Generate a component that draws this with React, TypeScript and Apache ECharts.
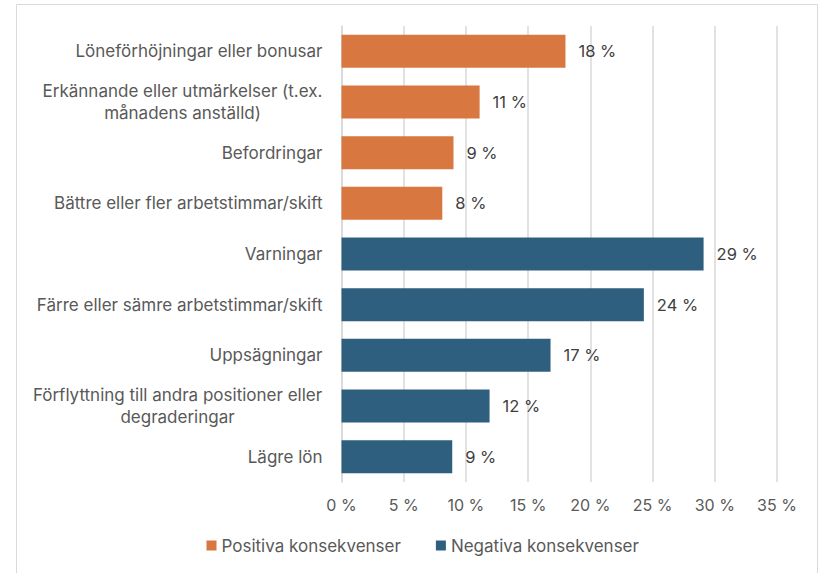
import React, { useEffect, useRef } from "react";
import * as echarts from "echarts";

const categories = [
  "Löneförhöjningar eller bonusar",
  "Erkännande eller utmärkelser (t.ex.\nmånadens anställd)",
  "Befordringar",
  "Bättre eller fler arbetstimmar/skift",
  "Varningar",
  "Färre eller sämre arbetstimmar/skift",
  "Uppsägningar",
  "Förflyttning till andra positioner eller\ndegraderingar",
  "Lägre lön",
];
const positiveValues = [18.0, 11.1, 9.0, 8.1, null, null, null, null, null];
const negativeValues = [null, null, null, null, 29.1, 24.3, 16.8, 11.9, 8.9];
const seriesNames = ["Positiva konsekvenser", "Negativa konsekvenser"];
const axisMin = 0;
const axisMax = 35;
const axisStep = 5;

const FONT = "Inter, 'Noto Sans', sans-serif";
const LABEL_SIZE = 17;
const TEXT_COLOR = "#595959";

function measure(text: string, size: number): number {
  const c = document.createElement("canvas");
  const ctx = c.getContext("2d");
  if (!ctx) return text.length * size * 0.55;
  ctx.font = `${size}px Inter`;
  return ctx.measureText(text).width;
}

export default function App() {
  const ref = useRef<HTMLDivElement>(null);
  useEffect(() => {
    if (!ref.current) return;
    const chart = echarts.init(ref.current, null, { renderer: "svg" });

    const rich: Record<string, any> = {};
    categories.forEach((cat, i) => {
      const lines = cat.split("\n");
      if (lines.length > 1) {
        const w = Math.ceil(Math.max(...lines.map((l) => measure(l, LABEL_SIZE))));
        rich["c" + i] = {
          width: w,
          align: "center",
          fontSize: LABEL_SIZE,
          fontFamily: FONT,
          color: TEXT_COLOR,
          lineHeight: 21.5,
        };
      }
    });

    const labelStyle = {
      show: true,
      position: "right" as const,
      distance: 13,
      fontSize: 16.5,
      fontFamily: FONT,
      color: "#404040",
      formatter: (p: any) => `${Math.round(p.value)} %`,
    };

    chart.setOption({
      animation: false,
      backgroundColor: "#ffffff",
      textStyle: { fontFamily: FONT },
      graphic: [
        {
          type: "rect",
          shape: { x: 16.5, y: 4.5, width: 801, height: 620 },
          style: { fill: "none", stroke: "#d9d9d9", lineWidth: 1 },
          silent: true,
        },
      ],
      grid: { left: 341.5, right: 42, top: 26, bottom: 91 },
      legend: {
        data: seriesNames,
        left: 206.5,
        top: 537,
        padding: 0,
        icon: "rect",
        itemWidth: 10,
        itemHeight: 10,
        itemGap: 35,
        textStyle: { fontSize: 17, color: TEXT_COLOR, fontFamily: FONT },
      },
      xAxis: {
        type: "value",
        min: axisMin,
        max: axisMax,
        interval: axisStep,
        axisLine: { show: false },
        axisTick: { show: false },
        splitLine: { show: true, lineStyle: { color: "#d9d9d9", width: 1.5 } },
        axisLabel: {
          formatter: "{value} %",
          fontSize: 16,
          color: TEXT_COLOR,
          fontFamily: FONT,
          margin: 15,
        },
      },
      yAxis: {
        type: "category",
        data: categories,
        inverse: true,
        axisTick: { show: false },
        axisLine: { show: true, lineStyle: { color: "#d9d9d9", width: 1.5 } },
        axisLabel: {
          margin: 19,
          fontSize: LABEL_SIZE,
          color: TEXT_COLOR,
          fontFamily: FONT,
          lineHeight: 21.5,
          formatter: (val: string, idx: number) => {
            const lines = val.split("\n");
            if (lines.length > 1 && rich["c" + idx]) {
              return lines.map((l) => `{c${idx}|${l}}`).join("\n");
            }
            return val;
          },
          rich,
        },
      },
      series: [
        {
          name: seriesNames[0],
          type: "bar",
          stack: "all",
          data: positiveValues,
          barWidth: 33,
          itemStyle: { color: "#D8773F" },
          label: labelStyle,
        },
        {
          name: seriesNames[1],
          type: "bar",
          stack: "all",
          data: negativeValues,
          barWidth: 33,
          itemStyle: { color: "#2E5F7F" },
          label: labelStyle,
        },
      ],
    });
    return () => chart.dispose();
  }, []);
  return (
    <div
      ref={ref}
      style={{ position: "fixed", left: 0, top: 0, width: 819, height: 573, background: "#fff" }}
    />
  );
}
